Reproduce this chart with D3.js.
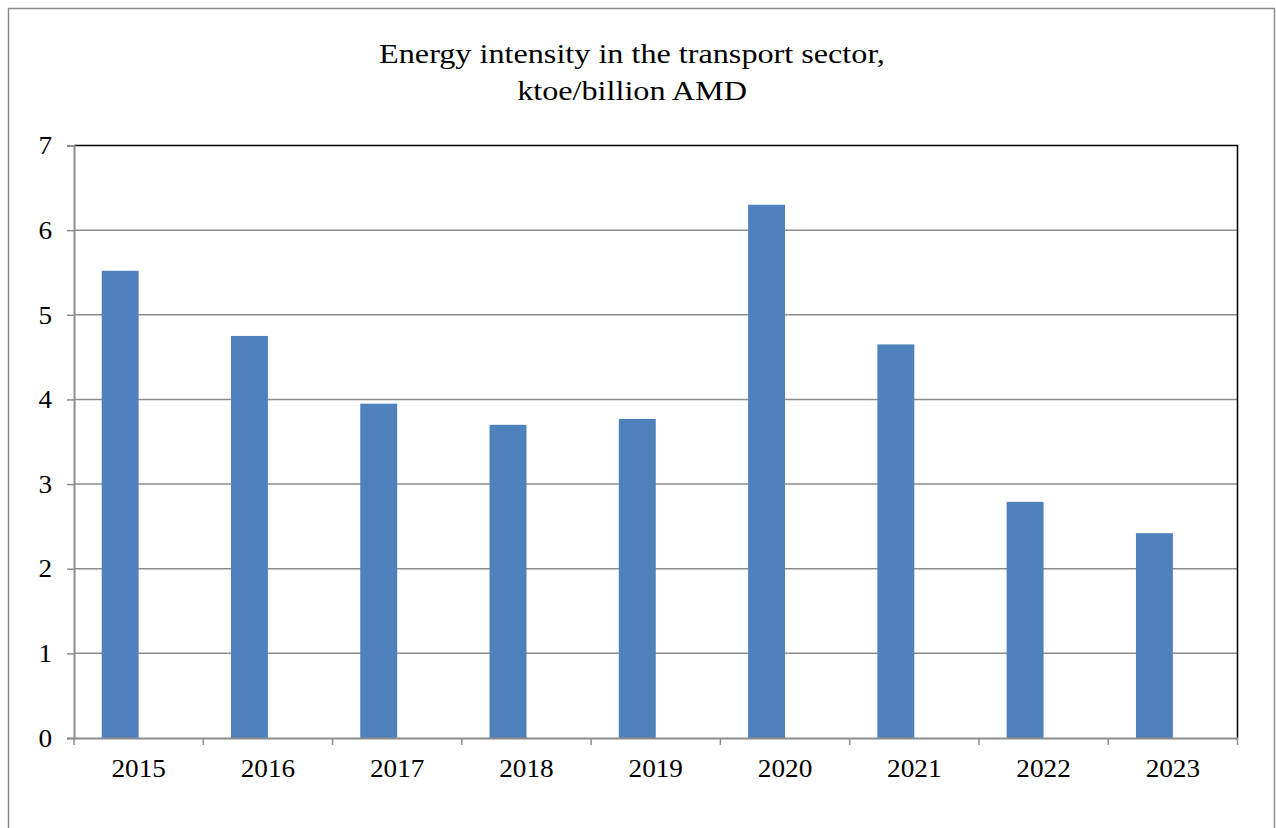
<!DOCTYPE html>
<html><head><meta charset="utf-8">
<script src="https://cdn.jsdelivr.net/npm/d3@7"></script>
<style>html,body{margin:0;padding:0;background:#fff;}svg{display:block;}</style>
</head><body>
<svg id="c" width="1276" height="828"></svg>
<script>
const categories = ["2015","2016","2017","2018","2019","2020","2021","2022","2023"];
const values = [5.52, 4.75, 3.95, 3.70, 3.77, 6.30, 4.65, 2.79, 2.42];
const yTicks = [0,1,2,3,4,5,6,7];
const titleLines = ["Energy intensity in the transport sector,", "ktoe/billion AMD"];

const svg = d3.select("#c");
const m = {left: 74, right: 1237.5, top: 145.5, bottom: 738};
const font = "'Liberation Serif','Times New Roman',serif";
const sx = 1.09;

// outer border
svg.append("rect").attr("x", 8.5).attr("y", 8.5).attr("width", 1266).attr("height", 830)
  .attr("fill", "#fff").attr("stroke", "#8c8c8c").attr("stroke-width", 1.5);

const x = d3.scaleBand().domain(categories).range([m.left, m.right]).padding(0);
const y = d3.scaleLinear().domain([0, 7]).range([m.bottom, m.top]);

// gridlines
svg.append("g").selectAll("line").data(yTicks.filter(d => d > 0 && d < 7)).join("line")
  .attr("x1", m.left).attr("x2", m.right)
  .attr("y1", d => y(d)).attr("y2", d => y(d))
  .attr("stroke", "#8c8c8c").attr("stroke-width", 1.5);

// bars: clustered with an empty second series (gap width 150%)
const bw = x.bandwidth() / 3.5;
svg.append("g").selectAll("rect").data(values).join("rect")
  .attr("x", (d, i) => x(categories[i]) + bw * 0.75)
  .attr("width", bw)
  .attr("y", d => y(d))
  .attr("height", d => y(0) - y(d))
  .attr("fill", "#4f81bd");

// plot border top/right black
svg.append("path")
  .attr("d", `M${m.left},${m.top}H${m.right}V${m.bottom}`)
  .attr("fill", "none").attr("stroke", "#000").attr("stroke-width", 1.5);

// y axis
const yAxis = d3.axisLeft(y).tickValues(yTicks).tickSize(7).tickFormat(d3.format("d"));
const gy = svg.append("g").attr("transform", `translate(${m.left},0)`).call(yAxis);
gy.select(".domain").attr("stroke", "#8c8c8c").attr("stroke-width", 2);
gy.selectAll(".tick line").attr("stroke", "#8c8c8c").attr("stroke-width", 1.5);
gy.selectAll("text").attr("font-family", font).attr("font-size", 25).attr("fill", "#000")
  .attr("x", 0).attr("dy", "0.33em").attr("transform", `translate(-22,0) scale(${sx},1)`);

// x axis
const xAxis = d3.axisBottom(x).tickSize(0);
const gx = svg.append("g").attr("transform", `translate(0,${m.bottom})`).call(xAxis);
gx.select(".domain").attr("stroke", "#8c8c8c").attr("stroke-width", 2);
gx.selectAll("text").attr("font-family", font).attr("font-size", 25).attr("fill", "#000")
  .attr("y", 39).attr("dy", 0).attr("transform", `scale(${sx},1)`);
// category boundary ticks
const bounds = categories.map(c => x(c)).concat([m.right]);
svg.append("g").selectAll("line").data(bounds).join("line")
  .attr("x1", d => d).attr("x2", d => d)
  .attr("y1", m.bottom).attr("y2", m.bottom + 7)
  .attr("stroke", "#8c8c8c").attr("stroke-width", 1.5);

// title
svg.append("g").attr("transform", "translate(632,0) scale(1.15,1)")
  .append("text").attr("font-family", font).attr("font-size", 28)
  .attr("text-anchor", "middle").attr("fill", "#000")
  .selectAll("tspan").data(titleLines).join("tspan")
  .attr("x", 0).attr("y", (d, i) => 63 + i * 37).text(d => d);
</script>
</body></html>
